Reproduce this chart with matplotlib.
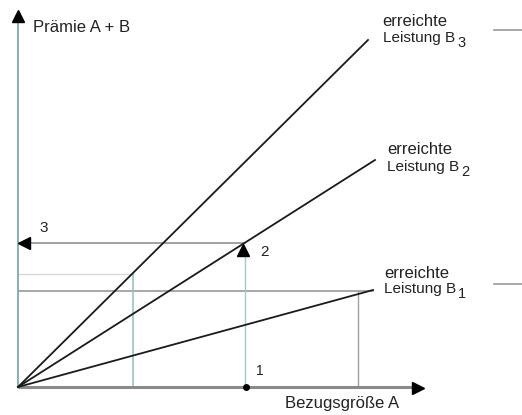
import matplotlib
matplotlib.use("Agg")
import matplotlib.pyplot as plt

# Diagram coordinates: origin at the axes crossing, x to the right, y upward
line_names = ["B1", "B2", "B3"]
line_end_x = [355, 357, 350]
line_end_y = [97, 227, 347]

# reference points
b1_point = (340, 96)     # B1 achieved -> prize level
b2_point = (227, 144)    # B2 level (step 2)
b3_point = (115, 113)    # B3 at same prize level
point1_x = 228           # point 1 on the Bezugsgröße axis

label_digits = ["1", "2", "3"]
label_top_pos = [(366, 113), (369, 237), (364, 365)]
label_bot_pos = [(366, 98), (369, 220), (365, 349)]

plt.rcParams['font.family'] = ['Liberation Sans', 'DejaVu Sans']
TXT = '#222222'

fig = plt.figure(figsize=(5.22, 4.15), dpi=100)
ax = fig.add_axes([0, 0, 1, 1])
ax.set_xlim(-18, 504)
ax.set_ylim(-28, 387)
ax.axis('off')

# axes
ax.plot([0, 395], [0, 0], color='#8a8a8a', lw=2.2, solid_capstyle='butt', zorder=3)
ax.plot([0, 0], [0, 365], color='#7fb3b3', lw=1.4, zorder=3)
ax.plot([400], [-1], marker='>', color='black', markersize=9, zorder=4)
ax.plot([0], [371], marker='^', color='black', markersize=9, zorder=4)

# helper lines
ax.plot([0, 355], [b1_point[1], b1_point[1]], color='#909090', lw=1.1, zorder=2)
ax.plot([b1_point[0], b1_point[0]], [0, b1_point[1]], color='#a0a0a0', lw=1.0, zorder=2)
ax.plot([5, b2_point[0]], [b2_point[1], b2_point[1]], color='#888888', lw=1.1, zorder=2)
ax.plot([b2_point[0], b2_point[0]], [0, b2_point[1] - 12], color='#a8c8c8', lw=1.0, zorder=2)
ax.plot([0, b3_point[0]], [b3_point[1], b3_point[1]], color='#d8d8d8', lw=1.0, zorder=2)
ax.plot([b3_point[0], b3_point[0]], [0, b3_point[1]], color='#8fc0c0', lw=1.1, zorder=2)

# performance lines
for ex, ey in zip(line_end_x, line_end_y):
    ax.plot([0, ex], [0, ey], color='#1a1a1a', lw=1.3, zorder=3)

# markers
ax.plot([6], [b2_point[1]], marker='<', color='black', markersize=9, zorder=4)
ax.plot([b2_point[0] - 2], [b2_point[1] - 7], marker='^', color='black', markersize=8, zorder=4)
ax.plot([point1_x], [0], marker='o', color='black', markersize=4, zorder=4)

# texts
ax.text(15, 359, "Prämie A + B", fontsize=12, ha='left', va='center', color=TXT)
ax.text(21, 159, "3", fontsize=11, ha='left', va='center', color=TXT)
ax.text(242, 135, "2", fontsize=11, ha='left', va='center', color=TXT)
ax.text(238, 16, "1", fontsize=10, ha='left', va='center', color=TXT)
ax.text(267, -16, "Bezugsgröße A", fontsize=12, ha='left', va='center', color=TXT)
for (tx, ty), (bx, by), d in zip(label_top_pos, label_bot_pos, label_digits):
    ax.text(tx, ty, "erreichte", fontsize=12, ha='left', va='center', color=TXT)
    t = ax.text(bx, by, "Leistung B", fontsize=11, ha='left', va='center', color=TXT)
    ax.annotate(d, xy=(1, 0.5), xycoords=t, xytext=(1.5, -3.5), textcoords='offset points',
                fontsize=10.5, ha='left', va='center', color=TXT)

# edge dashes at right
ax.plot([476, 504], [357, 357], color='#9a9a9a', lw=1.2)
ax.plot([476, 504], [103, 103], color='#9a9a9a', lw=1.2)

fig.savefig("out.png", dpi=100)
